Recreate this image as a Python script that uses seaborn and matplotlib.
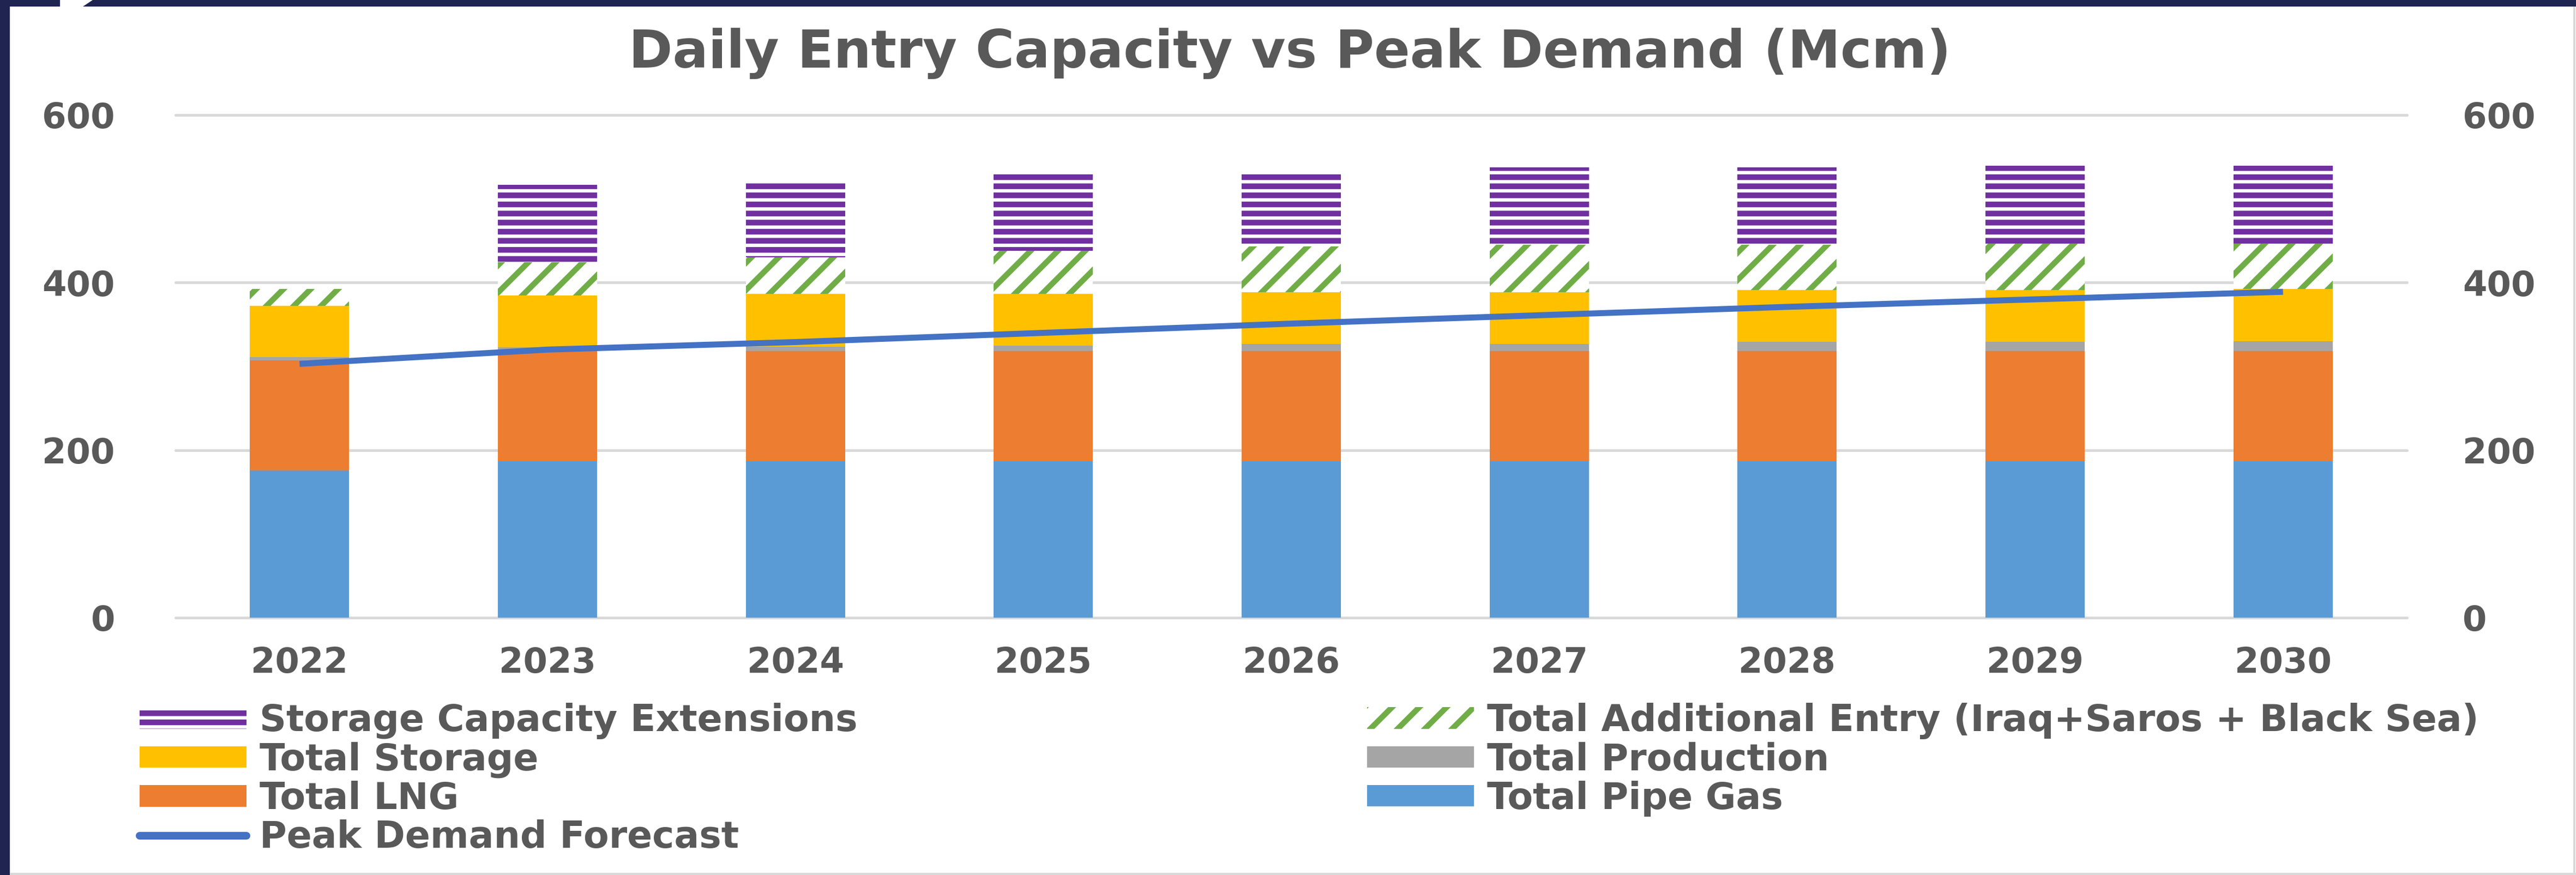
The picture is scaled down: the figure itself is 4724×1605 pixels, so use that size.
import numpy as np
import pandas as pd
import matplotlib
matplotlib.use("Agg")
import matplotlib.pyplot as plt
import seaborn as sns
from matplotlib.patches import Patch, Rectangle, Polygon
from matplotlib.lines import Line2D

# ---------------- data ----------------
years = ["2022", "2023", "2024", "2025", "2026", "2027", "2028", "2029", "2030"]
pipe_gas = [176, 187, 187, 187, 187, 187, 187, 187, 187]
lng = [131, 132, 131.5, 131.5, 131.5, 131.5, 131.5, 131.5, 131.5]
production = [4, 3.5, 5, 6.5, 8.5, 8.5, 10.5, 10.5, 11.5]
storage = [61.5, 62, 63, 61.5, 61.5, 61.5, 62, 62, 62.5]
additional_entry = [20, 40, 43.5, 51.5, 54.5, 56.5, 54, 55.5, 54]
storage_ext = [0, 92.5, 89.5, 92, 87, 92.5, 92.5, 93, 93]
peak_demand = [303, 320, 329, 340, 351, 361, 371, 380, 389]

title = "Daily Entry Capacity vs Peak Demand (Mcm)"
y_ticks = [0, 200, 400, 600]

names = ["Total Pipe Gas", "Total LNG", "Total Production", "Total Storage",
         "Total Additional Entry (Iraq+Saros + Black Sea)", "Storage Capacity Extensions"]
line_name = "Peak Demand Forecast"

C_BLUE, C_ORANGE, C_GRAY, C_YELLOW = "#5B9BD5", "#ED7D31", "#A5A5A5", "#FFC000"
C_GREEN, C_PURPLE, C_LINE = "#70AD47", "#7030A0", "#4472C4"
TXT = "#595959"
GRID = "#D9D9D9"
NAVY = "#1F2451"

# ---------------- figure ----------------
W, H, DPI = 4724, 1605, 300
sns.set_theme(style="white")
plt.rcParams["font.family"] = ["DejaVu Sans"]
plt.rcParams["hatch.linewidth"] = 2.5

fig = plt.figure(figsize=(W / DPI, H / DPI), dpi=DPI)
fig.patch.set_facecolor("white")

def px(v):  # pixels -> points
    return v * 72 / DPI

ax_l, ax_r, ax_t, ax_b = 322, 4414, 211, 1133
ax = fig.add_axes([ax_l / W, 1 - ax_b / H, (ax_r - ax_l) / W, (ax_b - ax_t) / H])
ax.set_facecolor("none")

layers = [pipe_gas, lng, production, storage, additional_entry, storage_ext]
cum = np.cumsum(np.array(layers, dtype=float), axis=0)
df = pd.DataFrame({"year": years})
for i, n in enumerate(names):
    df[n] = cum[i]

styles = [
    dict(color=C_BLUE),
    dict(color=C_ORANGE),
    dict(color=C_GRAY),
    dict(color=C_YELLOW),
    dict(color="white", edgecolor=C_GREEN, hatch="//"),
    dict(color="white", edgecolor=C_PURPLE, hatch="---"),
]

# draw from tallest cumulative to shortest so each layer covers the ones below
for i in range(len(names) - 1, -1, -1):
    st = dict(styles[i])
    sns.barplot(data=df, x="year", y=names[i], ax=ax, width=0.4, saturation=1,
                errorbar=None, linewidth=0, **st)

ax.set_ylim(0, 600)
ax.set_xlim(-0.5, len(years) - 0.5)
ax.set_yticks(y_ticks)
ax.set_xlabel("")
ax.set_ylabel("")
ax.set_axisbelow(True)
ax.yaxis.grid(True, color=GRID, linewidth=px(5))
ax.xaxis.grid(False)
for gl in ax.get_ygridlines():
    gl.set_clip_on(False)
for s in ax.spines.values():
    s.set_visible(False)
fs_tick = px(64)
ax.tick_params(axis="y", length=0, pad=px(111), labelsize=fs_tick, labelcolor=TXT)
ax.tick_params(axis="x", length=0, pad=px(52), labelsize=fs_tick, labelcolor=TXT)
for t in ax.get_yticklabels() + ax.get_xticklabels():
    t.set_fontweight("bold")

# secondary axis with the demand line
ax2 = ax.twinx()
ax2.set_facecolor("none")
sns.lineplot(x=np.arange(len(years)), y=peak_demand, ax=ax2, color=C_LINE,
             linewidth=px(11), solid_capstyle="butt", sort=False)
ax2.set_ylim(0, 600)
ax2.set_yticks(y_ticks)
ax2.set_ylabel("")
for s in ax2.spines.values():
    s.set_visible(False)
ax2.tick_params(axis="y", length=0, pad=px(102), labelsize=fs_tick, labelcolor=TXT)
for t in ax2.get_yticklabels():
    t.set_fontweight("bold")
ax.set_xlim(-0.5, len(years) - 0.5)

# title
fig.text(2365 / W, 1 - 98 / H, title, ha="center", va="center",
         fontsize=px(97), fontweight="bold", color=TXT)

# legend handles
h_pipe = Patch(facecolor=C_BLUE, linewidth=0)
h_lng = Patch(facecolor=C_ORANGE, linewidth=0)
h_prod = Patch(facecolor=C_GRAY, linewidth=0)
h_stor = Patch(facecolor=C_YELLOW, linewidth=0)
h_add = Patch(facecolor="white", edgecolor=C_GREEN, hatch="//", linewidth=0)
h_ext = Patch(facecolor="white", edgecolor=C_PURPLE, hatch="---", linewidth=0)
h_line = Line2D([], [], color=C_LINE, linewidth=px(14), solid_capstyle="round")

FL = 68
fs_leg = px(FL)
leg_kw = dict(frameon=False, borderpad=0, borderaxespad=0, loc="upper left",
              handlelength=196 / FL, handleheight=35 / FL, handletextpad=24 / FL,
              labelspacing=0.07, prop=dict(size=fs_leg, weight="bold"),
              labelcolor=TXT, bbox_transform=fig.transFigure)
leg_top = 1 - 1289 / H
fig.legend([h_ext, h_stor, h_lng, h_line],
           [names[5], names[3], names[1], line_name],
           bbox_to_anchor=(256 / W, leg_top), **leg_kw)
fig.legend([h_add, h_prod, h_pipe],
           [names[4], names[2], names[0]],
           bbox_to_anchor=(2507 / W, leg_top), **leg_kw)

# frame decorations
ft = fig.transFigure
fig.patches.append(Rectangle((0, 1 - 12 / H), 1, 12 / H, transform=ft,
                             facecolor=NAVY, edgecolor="none", zorder=5))
fig.patches.append(Rectangle((0, 0), 18 / W, 1, transform=ft,
                             facecolor=NAVY, edgecolor="none", zorder=5))
fig.patches.append(Polygon([(110 / W, 1), (170 / W, 1), (152 / W, 1 - 12 / H), (110 / W, 1 - 12 / H)],
                           closed=True, transform=ft, facecolor="white", edgecolor="none", zorder=6))
fig.patches.append(Rectangle((4719 / W, 0), 4 / W, 1 - 12 / H, transform=ft,
                             facecolor=GRID, edgecolor="none", zorder=5))
fig.patches.append(Rectangle((18 / W, 0), 1, 4 / H, transform=ft,
                             facecolor=GRID, edgecolor="none", zorder=5))

fig.savefig("out.png", dpi=DPI, facecolor="white")
